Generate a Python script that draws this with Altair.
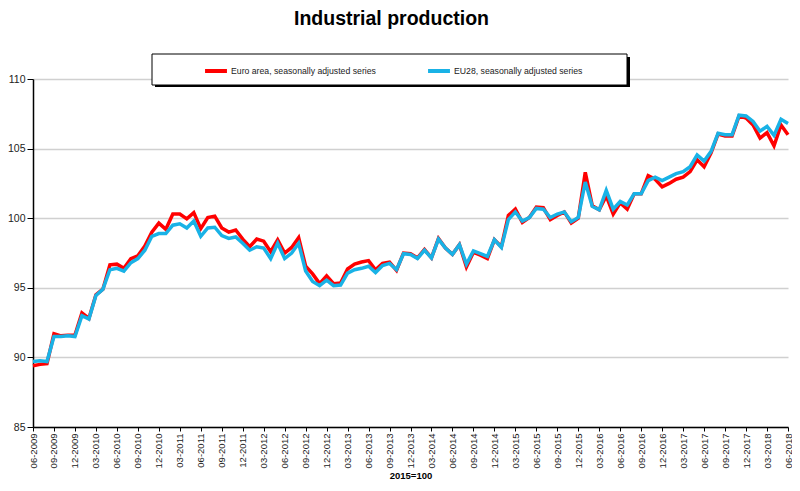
import altair as alt
import pandas as pd

months = pd.date_range("2009-06-01", "2018-06-01", freq="MS").strftime("%m-%Y").tolist()
tick_labels = months[::3]

euro_area = [
    89.4, 89.5, 89.55, 91.7, 91.55, 91.6, 91.6, 93.2, 92.8, 94.5,
    94.9, 96.65, 96.7, 96.4, 97.1, 97.3, 98.0, 99.0, 99.65, 99.2,
    100.3, 100.3, 99.95, 100.4, 99.25, 100.05, 100.15, 99.3, 99.0, 99.15,
    98.5, 97.95, 98.5, 98.35, 97.6, 98.45, 97.5, 97.9, 98.6, 96.55,
    96.0, 95.3, 95.85, 95.3, 95.35, 96.35, 96.7, 96.85, 96.95, 96.3,
    96.75, 96.85, 96.25, 97.5, 97.45, 97.15, 97.75, 97.15, 98.55, 97.85,
    97.4, 98.1, 96.5, 97.55, 97.35, 97.1, 98.45, 97.95, 100.2, 100.65,
    99.7, 100.05, 100.8, 100.75, 99.9, 100.2, 100.45, 99.65, 100.0, 103.3,
    100.9, 100.6, 101.6, 100.3, 101.1, 100.65, 101.75, 101.75, 103.05, 102.8,
    102.25, 102.5, 102.8, 102.95, 103.35, 104.2, 103.7, 104.7, 106.05, 105.9,
    105.9, 107.35, 107.2, 106.7, 105.75, 106.15, 105.2, 106.7, 106.0,
]
eu28 = [
    89.7, 89.75, 89.7, 91.5, 91.5, 91.55, 91.5, 93.0, 92.75, 94.45,
    94.9, 96.3, 96.4, 96.2, 96.8, 97.1, 97.7, 98.7, 98.9, 98.9,
    99.5, 99.6, 99.3, 99.8, 98.7, 99.3, 99.35, 98.75, 98.55, 98.65,
    98.2, 97.7, 97.95, 97.85, 97.1, 98.2, 97.1, 97.5, 98.2, 96.2,
    95.45, 95.15, 95.55, 95.15, 95.2, 96.05, 96.3, 96.4, 96.55, 96.1,
    96.6, 96.75, 96.3, 97.45, 97.4, 97.1, 97.7, 97.15, 98.5, 97.85,
    97.4, 98.1, 96.7, 97.65, 97.45, 97.25, 98.45, 97.9, 99.9, 100.45,
    99.8, 100.05, 100.7, 100.65, 100.05, 100.3, 100.45, 99.75, 100.05, 102.6,
    100.85, 100.6, 102.0, 100.65, 101.2, 100.95, 101.75, 101.75, 102.7, 102.95,
    102.7, 102.95, 103.2, 103.35, 103.7, 104.55, 104.1, 104.8, 106.1, 106.0,
    106.0, 107.4, 107.35, 106.95, 106.25, 106.6, 105.95, 107.1, 106.8,
]

series_names = ["Euro area, seasonally adjusted series", "EU28, seasonally adjusted series"]
series_colors = ["#ff0000", "#19b2e6"]

df_euro = pd.DataFrame({"month": months, "value": euro_area, "series": series_names[0]})
df_eu28 = pd.DataFrame({"month": months, "value": eu28, "series": series_names[1]})

FONT = "Liberation Sans"

x_enc = alt.X(
    "month:O",
    sort=months,
    scale=alt.Scale(type="point", padding=0),
    axis=alt.Axis(
        values=tick_labels,
        labelAngle=-90,
        labelFontSize=9.5,
        labelColor="#222222",
        labelPadding=2,
        tickSize=4,
        tickColor="black",
        domainColor="black",
        domainWidth=1.5,
        grid=False,
        title="2015=100",
        titleFontSize=9.5,
        titleFontWeight="bold",
        titlePadding=3,
        titleColor="black",
    ),
)
y_enc = alt.Y(
    "value:Q",
    scale=alt.Scale(domain=[85, 110], nice=False, zero=False),
    axis=alt.Axis(
        values=[85, 90, 95, 100, 105, 110],
        title=None,
        tickSize=6,
        tickColor="black",
        domainColor="black",
        domainWidth=1.5,
        labelFontSize=10.5,
        labelColor="#222222",
        labelPadding=2,
        gridColor="#d0d0d0",
        gridWidth=1.5,
    ),
)
color_enc = alt.Color(
    "series:N",
    scale=alt.Scale(domain=series_names, range=series_colors),
    legend=alt.Legend(
        title=None,
        orient="none",
        legendX=170,
        legendY=-21,
        direction="horizontal",
        symbolType="stroke",
        symbolStrokeWidth=4,
        symbolSize=480,
        labelFontSize=8.7,
        labelColor="#222222",
        labelOffset=2,
        columnPadding=44,
        padding=0,
        zindex=2,
    ),
)

frame_df = pd.DataFrame({"k": [0]})
shadow = alt.Chart(frame_df).mark_rect(color="black").encode(
    x=alt.value(122), x2=alt.value(597), y=alt.value(-22), y2=alt.value(8)
)
box = alt.Chart(frame_df).mark_rect(fill="white", stroke="black", strokeWidth=1).encode(
    x=alt.value(119), x2=alt.value(594), y=alt.value(-25), y2=alt.value(6)
)

red_line = alt.Chart(df_euro).mark_line(strokeWidth=3.5).encode(x=x_enc, y=y_enc, color=color_enc)
blue_line = alt.Chart(df_eu28).mark_line(strokeWidth=3.5).encode(x=x_enc, y=y_enc, color=color_enc)

chart = (
    alt.layer(shadow, box, red_line, blue_line)
    .properties(
        width=755,
        height=348,
        padding={"left": 25, "top": 71, "right": 4, "bottom": 56},
        autosize=alt.AutoSizeParams(type="none"),
        title=alt.TitleParams(
            "Industrial production",
            fontSize=19.5,
            fontWeight="bold",
            font=FONT,
            color="black",
            anchor="middle",
            dx=-19,
            offset=24,
        ),
    )
    .configure(font=FONT)
    .configure_view(stroke="transparent")
)

chart.save("out.html", embed_options={"renderer": "svg", "actions": False})
